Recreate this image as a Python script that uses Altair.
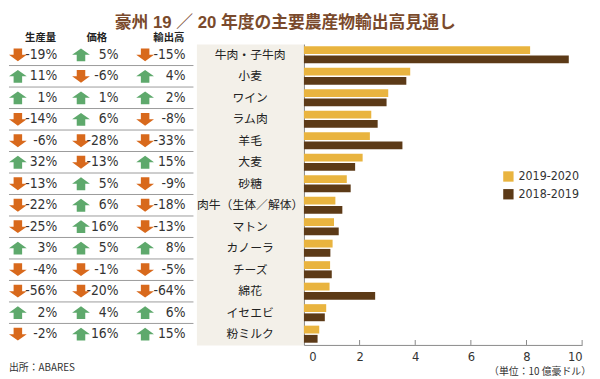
import altair as alt
import pandas as pd

categories = ["牛肉・子牛肉", "小麦", "ワイン", "ラム肉", "羊毛", "大麦", "砂糖",
              "肉牛（生体／解体）", "マトン", "カノーラ", "チーズ", "綿花", "イセエビ", "粉ミルク"]
production = [-19, 11, 1, -14, -6, 32, -13, -22, -25, 3, -4, -56, 2, -2]
price = [5, -6, 1, 6, -28, -13, 5, 6, 16, 5, -1, -20, 4, 16]
exports = [-15, 4, 2, -8, -33, 15, -9, -18, -13, 8, -5, -64, 6, 15]
periods = ["2019-2020", "2018-2019"]
v2019_2020 = [8.13, 3.82, 3.03, 2.42, 2.37, 2.11, 1.54, 1.13, 1.08, 1.03, 0.94, 0.92, 0.80, 0.55]
v2018_2019 = [9.52, 3.68, 2.97, 2.65, 3.54, 1.84, 1.68, 1.38, 1.25, 0.95, 1.00, 2.56, 0.75, 0.49]
headers = ["生産量", "価格", "輸出高"]
tick_values = [0, 2, 4, 6, 8, 10]
title_text = "豪州 19 ／ 20 年度の主要農産物輸出高見通し"
source_text = "出所：ABARES"
unit_text = "（単位：10 億豪ドル）"

# styles
CJK = "Noto Sans CJK JP"
CJK_TIGHT = "'Liberation Sans', 'Noto Sans CJK JP', sans-serif"
NUM = "'Liberation Sans Narrow', 'DejaVu Sans Condensed', Roboto, sans-serif"
GOLD = "#E9B43F"
BROWN = "#5C3A17"
GREEN = "#5EA96C"
ORANGE = "#D8691C"
PANEL = "#F3F0E9"
TITLE_COLOR = "#7A4A2C"
UP = "M0,-0.72 L1,0 L0.48,0 L0.48,0.72 L-0.48,0.72 L-0.48,0 L-1,0 Z"
DOWN = "M0,0.72 L1,0 L0.48,0 L0.48,-0.72 L-0.48,-0.72 L-0.48,0 L-1,0 Z"

H = 305
W_TABLE, W_LABEL, W_BAR = 190, 109, 282

yscale = alt.Scale(domain=categories, paddingInner=0, paddingOuter=0)

# ---------- table panel ----------
cols = [production, price, exports]
arrow_x = [9, 73, 138]
text_x = [49, 111, 179]
head_x = [32, 89, 162]

table_layers = []
for i, (name, vals) in enumerate(zip(headers, cols)):
    df = pd.DataFrame({"cat": categories, "val": vals})
    base = alt.Chart(df).transform_calculate(label="datum.val + '%'")
    arrows = base.mark_point(filled=True, size=324, strokeWidth=0, opacity=1).encode(
        x=alt.value(arrow_x[i]),
        y=alt.Y("cat:N", scale=yscale, axis=None),
        shape=alt.condition("datum.val > 0", alt.value(UP), alt.value(DOWN)),
        color=alt.condition("datum.val > 0", alt.value(GREEN), alt.value(ORANGE)),
    )
    texts = base.mark_text(align="right", baseline="middle", font=NUM, fontSize=14,
                           color="#333333").encode(
        x=alt.value(text_x[i]),
        y=alt.Y("cat:N", scale=yscale, axis=None),
        text="label:N",
    )
    head = alt.Chart(pd.DataFrame({"h": [name]})).mark_text(
        font=CJK_TIGHT, fontSize=10.5, fontWeight="bold", color="#222222", baseline="middle"
    ).encode(x=alt.value(head_x[i]), y=alt.value(-6), text="h:N")
    table_layers += [arrows, texts, head]

sep = alt.Chart(pd.DataFrame({"cat": categories[:-1]})).mark_rule(
    color="#9A9A9A", strokeWidth=1
).encode(
    y=alt.Y("cat:N", scale=yscale, axis=None, bandPosition=1),
    x=alt.value(0), x2=alt.value(187),
)
source = alt.Chart(pd.DataFrame({"t": [source_text]})).mark_text(
    font=CJK, fontSize=10, color="#333333", align="left", baseline="middle"
).encode(x=alt.value(0), y=alt.value(328), text="t:N")

table = alt.layer(sep, *table_layers, source).properties(width=W_TABLE, height=H)

# ---------- label panel ----------
lab_df = pd.DataFrame({"cat": categories})
labels = alt.Chart(lab_df).mark_text(font=CJK, fontSize=12, color="#222222",
                                     baseline="middle").encode(
    x=alt.value(W_LABEL / 2),
    y=alt.Y("cat:N", scale=yscale, axis=None),
    text="cat:N",
)
title = alt.Chart(pd.DataFrame({"t": [title_text]})).mark_text(
    font=CJK_TIGHT, fontSize=17, fontWeight="bold", color=TITLE_COLOR, baseline="top"
).encode(x=alt.value(90), y=alt.value(-29), text="t:N")
label_panel = alt.layer(labels, title).properties(
    width=W_LABEL, height=H, view=alt.ViewBackground(fill=PANEL)
)

# ---------- bar panel ----------
bar_df = pd.DataFrame({
    "cat": categories * 2,
    "period": [periods[0]] * len(categories) + [periods[1]] * len(categories),
    "value": v2019_2020 + v2018_2019,
})
xscale = alt.Scale(domain=[0, 10], nice=False, zero=True)
bars = alt.Chart(bar_df).mark_bar().encode(
    x=alt.X("value:Q", scale=xscale, title=None,
            axis=alt.Axis(values=tick_values, ticks=False, tickSize=0, domainColor="#888888",
                          labelFont=NUM, labelFontSize=13, labelColor="#333333",
                          labelPadding=6,
                          labelOffset={"condition": {"test": "datum.value === 0", "value": 5}, "value": 0})),
    y=alt.Y("cat:N", scale=yscale, title=None,
            axis=alt.Axis(labels=False, ticks=False, domainColor="#888888", title=None)),
    yOffset=alt.YOffset("period:N", scale=alt.Scale(domain=periods, paddingInner=0.15, paddingOuter=0.24)),
    color=alt.Color("period:N", scale=alt.Scale(domain=periods, range=[GOLD, BROWN]),
                    legend=alt.Legend(orient="none", legendX=201, legendY=128, title=None,
                                      symbolType="square", symbolSize=110, symbolStrokeWidth=0,
                                      labelFont=NUM, labelFontSize=12.5, labelColor="#333333",
                                      rowPadding=5, labelOffset=4)),
)
ticks = alt.Chart(pd.DataFrame({"t": tick_values[1:]})).mark_rule(
    color="#888888", strokeWidth=1
).encode(x=alt.X("t:Q", scale=xscale), y=alt.value(H - 5), y2=alt.value(H))
unit = alt.Chart(pd.DataFrame({"t": [unit_text]})).mark_text(
    font=CJK, fontSize=10, color="#333333", align="right", baseline="middle"
).encode(x=alt.value(291), y=alt.value(332), text="t:N")

bar_panel = alt.layer(bars, ticks, unit).properties(width=W_BAR, height=H)

chart = alt.hconcat(table, label_panel, bar_panel, spacing=0, bounds="flush").properties(
    padding={"left": 0, "top": 3, "right": 0, "bottom": 0}
).resolve_scale(color="independent", shape="independent").configure_view(
    stroke="transparent"
).configure_axis(grid=False)

chart.save("out.html", embed_options={"renderer": "svg", "actions": False})
